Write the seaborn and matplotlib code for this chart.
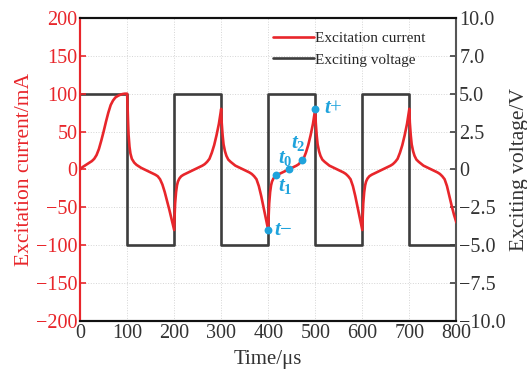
import matplotlib
matplotlib.use("Agg")
import matplotlib.pyplot as plt
import seaborn as sns
import pandas as pd
from matplotlib.lines import Line2D
from matplotlib.ticker import FixedLocator, FixedFormatter

# ---------------- data ----------------
time_us = [0, 5, 10, 15, 20, 25, 30, 35, 40, 45, 50, 55, 60, 65, 70, 75, 80, 85, 90, 95, 100,
           101, 102, 103, 105, 107, 110, 115, 120, 130, 140, 150, 160, 165, 170, 175, 180, 185, 190, 195, 200,
           201, 202, 204, 206, 208, 211, 215, 220, 230, 240, 250, 260, 265, 270, 275, 280, 285, 290, 295, 300,
           301, 303, 305, 308, 311, 315, 320, 330, 340, 350, 360, 365, 370, 375, 380, 385, 390, 395, 400,
           401, 402, 404, 406, 408, 411, 415, 420, 430, 440, 450, 460, 465, 470, 475, 480, 485, 490, 495, 500,
           501, 503, 505, 508, 511, 515, 520, 530, 540, 550, 560, 565, 570, 575, 580, 585, 590, 595, 600,
           601, 602, 604, 606, 608, 611, 615, 620, 630, 640, 650, 660, 665, 670, 675, 680, 685, 690, 695, 700,
           701, 703, 705, 708, 711, 715, 720, 730, 740, 750, 760, 765, 770, 775, 780, 785, 790, 795, 800]
current_mA = [0, 3, 5, 7, 9, 11, 14, 19, 27, 38, 50, 63, 75, 85, 91, 95, 97, 98.5, 99.5, 100, 100,
              80, 62, 46, 30, 21, 14, 9, 6, 2, -1, -4, -7, -9, -13, -20, -30, -42, -54, -67, -80,
              -60, -45, -30, -21, -16, -12, -9, -7, -4, -1, 2, 5, 7, 10, 14, 22, 32, 45, 60, 80,
              62, 45, 33, 24, 18, 13, 10, 5, 2, -1, -4, -6, -9, -13, -22, -35, -50, -65, -80,
              -60, -45, -30, -21, -16, -12, -9, -7, -4, -1, 2, 5, 7, 11, 14, 22, 32, 45, 60, 80,
              62, 45, 33, 24, 18, 13, 10, 5, 2, -1, -4, -6, -9, -13, -22, -35, -50, -65, -80,
              -60, -45, -30, -21, -16, -12, -9, -7, -4, -1, 2, 5, 7, 10, 14, 22, 32, 45, 60, 80,
              62, 45, 33, 24, 18, 13, 10, 5, 2, -1, -4, -6, -9, -13, -22, -35, -48, -60, -70]

volt_time_us = [0, 100, 100, 200, 200, 300, 300, 400, 400, 500, 500, 600, 600, 700, 700, 800]
voltage_V = [5, 5, -5, -5, 5, 5, -5, -5, 5, 5, -5, -5, 5, 5, -5, -5]

marker_names = ["$t$−", "$t_1$", "$t_0$", "$t_2$", "$t$+"]
marker_time = [400, 416, 445, 471, 500]
marker_current = [-80, -8, 1, 12, 80]
label_time = [413, 420, 420, 449, 519]
label_current = [-80, -22, 15, 34, 80]

left_ticks = [-200, -150, -100, -50, 0, 50, 100, 150, 200]
right_ticks = [-10, -7.5, -5, -2.5, 0, 2.5, 5, 7.5, 10]
right_tick_labels = ["−10.0", "−7.5", "−5.0", "−2.5", "0", "2.5", "5.0", "7.0", "10.0"]
x_ticks = [0, 100, 200, 300, 400, 500, 600, 700, 800]

# ---------------- style ----------------
sns.set_style("white")
plt.rcParams["font.family"] = ["Liberation Serif", "DejaVu Serif"]
plt.rcParams["mathtext.fontset"] = "custom"
plt.rcParams["mathtext.it"] = "Liberation Serif:italic:bold"
plt.rcParams["mathtext.rm"] = "Liberation Serif:bold"
plt.rcParams["mathtext.bf"] = "Liberation Serif:bold"

RED = "#e8262b"
GRAY = "#3d3d3d"
CYAN = "#1fa3dc"
TXT = "#333333"

cur_df = pd.DataFrame({"Time": time_us, "Current": current_mA})
volt_df = pd.DataFrame({"Time": volt_time_us, "Voltage": voltage_V})

fig = plt.figure(figsize=(5.27, 3.74), dpi=100)
ax = fig.add_axes([0.152, 0.142, 0.714, 0.81])
ax2 = ax.twinx()

sns.lineplot(data=volt_df, x="Time", y="Voltage", ax=ax2, color=GRAY, lw=1.9,
             sort=False, estimator=None)
sns.lineplot(data=cur_df, x="Time", y="Current", ax=ax, color=RED, lw=1.9,
             sort=False, estimator=None, zorder=5)
# current axis drawn above the voltage axis
ax.set_zorder(ax2.get_zorder() + 1)
ax.patch.set_visible(False)

ax.scatter(marker_time, marker_current, s=32, color=CYAN, zorder=6, linewidths=0)
for name, tx, ty in zip(marker_names, label_time, label_current):
    ax.text(tx, ty, name, color=CYAN, fontsize=15, ha="left", va="center", zorder=7)

ax.set_xlim(0, 800)
ax.set_ylim(-200, 200)
ax2.set_ylim(-10, 10)
ax.xaxis.set_major_locator(FixedLocator(x_ticks))
ax.yaxis.set_major_locator(FixedLocator(left_ticks))
ax2.yaxis.set_major_locator(FixedLocator(right_ticks))
ax2.yaxis.set_major_formatter(FixedFormatter(right_tick_labels))

# grid lives on the lower (voltage) axes so it stays behind both lines
ax.grid(False)
ax2.xaxis.set_visible(True)
ax2.xaxis.set_major_locator(FixedLocator(x_ticks))
ax2.set_xlabel("")
ax2.tick_params(axis="x", which="both", bottom=False, top=False,
                labelbottom=False, labeltop=False, length=0)
ax2.grid(True, which="major", axis="both", linestyle=":", color="#d5d5d5", linewidth=0.7)

ax.set_xlabel("Time/μs", fontsize=15, color=TXT, labelpad=5)
ax.set_ylabel("Excitation current/mA", fontsize=15.5, color=RED, labelpad=1)
ax2.set_ylabel("Exciting voltage/V", fontsize=15.5, color=TXT, labelpad=3)

ax.tick_params(axis="x", direction="in", length=4, width=1.2, colors="#222222",
               labelsize=14.5, pad=2, labelcolor=TXT)
ax.tick_params(axis="y", direction="in", length=4, width=1.2, colors=RED,
               labelsize=14.5, pad=2)
ax2.tick_params(axis="y", direction="in", length=4, width=1.2, colors=GRAY,
                labelsize=14.5, pad=2, labelcolor=TXT)

for a in (ax, ax2):
    for s in a.spines.values():
        s.set_linewidth(1.5)
ax2.spines["left"].set_color(RED)
ax2.spines["right"].set_color("#555555")
ax2.spines["top"].set_color("#111111")
ax2.spines["bottom"].set_color("#111111")
ax.spines["left"].set_color(RED)
ax.spines["top"].set_color("#111111")
ax.spines["bottom"].set_color("#111111")
ax.spines["right"].set_visible(False)

handles = [Line2D([], [], color=RED, lw=1.9), Line2D([], [], color=GRAY, lw=1.9)]
ax.legend(handles, ["Excitation current", "Exciting voltage"], loc="upper right",
          bbox_to_anchor=(0.935, 0.975), frameon=False, fontsize=11,
          handlelength=2.7, handletextpad=0.1, labelspacing=0.5, borderaxespad=0)

fig.savefig("out.png", dpi=100)
